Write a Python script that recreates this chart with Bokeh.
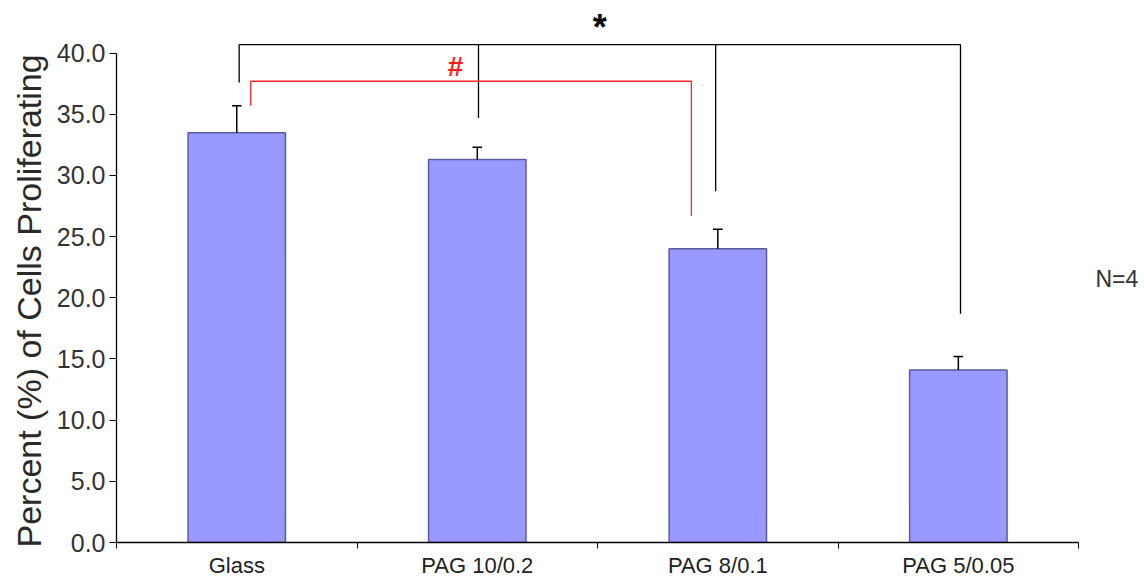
from bokeh.plotting import figure
from bokeh.models import (Range1d, FixedTicker, NumeralTickFormatter, Label,
                          ColumnDataSource, Title)
from bokeh.embed import file_html
from bokeh.resources import INLINE

# --- data -------------------------------------------------------------
categories = ["Glass", "PAG 10/0.2", "PAG 8/0.1", "PAG 5/0.05"]
percent = [33.5, 31.3, 24.0, 14.1]
sem = [2.2, 1.0, 1.6, 1.1]
y_ticks = [0, 5, 10, 15, 20, 25, 30, 35, 40]

# significance bracket (*): Glass vs every PAG group
star_level = 40.7
star_drop_ends = [37.6, 34.7, 28.7, 18.7]
star_offsets = [0.01, 0.005, -0.009, 0.009]
# significance bracket (#): Glass vs PAG 8/0.1
hash_level = 37.7
hash_drop_ends = [35.7, 26.7]
hash_offsets = [0.058, -0.11]

FONT = "Liberation Sans"
centers = [i + 0.5 for i in range(len(categories))]

p = figure(width=1144, height=580, output_backend="svg", toolbar_location=None,
           x_range=Range1d(0, 4.274), y_range=Range1d(0, 44.3),
           min_border_left=116, min_border_right=0, min_border_top=0,
           min_border_bottom=37)
p.outline_line_color = None
p.xgrid.visible = False
p.ygrid.visible = False
p.background_fill_color = "white"

# bars
src = ColumnDataSource(dict(x=centers, top=percent,
                            err_top=[v + e for v, e in zip(percent, sem)],
                            cap_l=[c - 0.02 for c in centers],
                            cap_r=[c + 0.02 for c in centers]))
p.vbar(x="x", top="top", bottom=0, width=0.405, source=src,
       fill_color="#9999ff", line_color="#5b5b9e", line_width=1.5)

# one-sided error bars
p.segment(x0="x", y0="top", x1="x", y1="err_top", source=src,
          line_color="black", line_width=1.5)
p.segment(x0="cap_l", y0="err_top", x1="cap_r", y1="err_top", source=src,
          line_color="black", line_width=1.5)

# * bracket
star_x = [c + o for c, o in zip(centers, star_offsets)]
p.segment(x0=[star_x[0]], y0=[star_level], x1=[star_x[-1]], y1=[star_level],
          line_color="black", line_width=1.3)
p.segment(x0=star_x, y0=[star_level] * len(star_x), x1=star_x, y1=star_drop_ends,
          line_color="black", line_width=1.3)

# # bracket
hash_x = [centers[0] + hash_offsets[0], centers[2] + hash_offsets[1]]
p.line(x=[hash_x[0], hash_x[0], hash_x[1], hash_x[1]],
       y=[hash_drop_ends[0], hash_level, hash_level, hash_drop_ends[1]],
       line_color="#ff2222", line_width=1.3)

p.add_layout(Label(x=(star_x[0] + star_x[-1]) / 2, y=40.45, text="*",
                   text_align="center", text_baseline="bottom",
                   text_font=FONT, text_font_size="36px",
                   text_font_style="bold", text_color="black"))
p.add_layout(Label(x=1.41, y=hash_level - 0.05, text="#",
                   text_align="center", text_baseline="bottom",
                   text_font=FONT, text_font_size="28px",
                   text_font_style="bold", text_color="#ff1a1a"))
p.add_layout(Label(x=4.07, y=21.5, text="N=4", text_align="left",
                   text_baseline="middle", text_font=FONT,
                   text_font_size="23px", text_color="#333333"))

# y axis title, starting just below the axis foot and reading upwards
p.add_layout(Title(text="Percent (%) of Cells Proliferating", align="left",
                   offset=-5, standoff=12, text_font=FONT,
                   text_font_size="34px", text_font_style="normal",
                   text_color="#2a2a2a"), "left")

# y axis
ya = p.yaxis[0]
ya.bounds = (0, 40)
ya.ticker = FixedTicker(ticks=y_ticks)
ya.formatter = NumeralTickFormatter(format="0.0")
ya.axis_line_color = "black"
ya.axis_line_width = 1.3
ya.major_tick_out = 7
ya.major_tick_in = 0
ya.minor_tick_out = 0
ya.minor_tick_in = 0
ya.major_tick_line_color = "black"
ya.major_label_standoff = 4
ya.major_label_text_font = FONT
ya.major_label_text_font_size = "25px"
ya.major_label_text_color = "#333333"

# x axis: labels at category centres, ticks on category boundaries
xa = p.xaxis[0]
xa.bounds = (0, 4)
xa.ticker = FixedTicker(ticks=centers, minor_ticks=[0, 1, 2, 3, 4])
xa.major_label_overrides = {c: name for c, name in zip(centers, categories)}
xa.axis_line_color = "black"
xa.axis_line_width = 1.3
xa.major_tick_out = 0
xa.major_tick_in = 0
xa.minor_tick_out = 6
xa.minor_tick_in = 0
xa.minor_tick_line_color = "black"
xa.major_label_standoff = 4
xa.major_label_text_font = FONT
xa.major_label_text_font_size = "22px"
xa.major_label_text_color = "#222222"

open("out.html", "w").write(file_html(p, INLINE))
